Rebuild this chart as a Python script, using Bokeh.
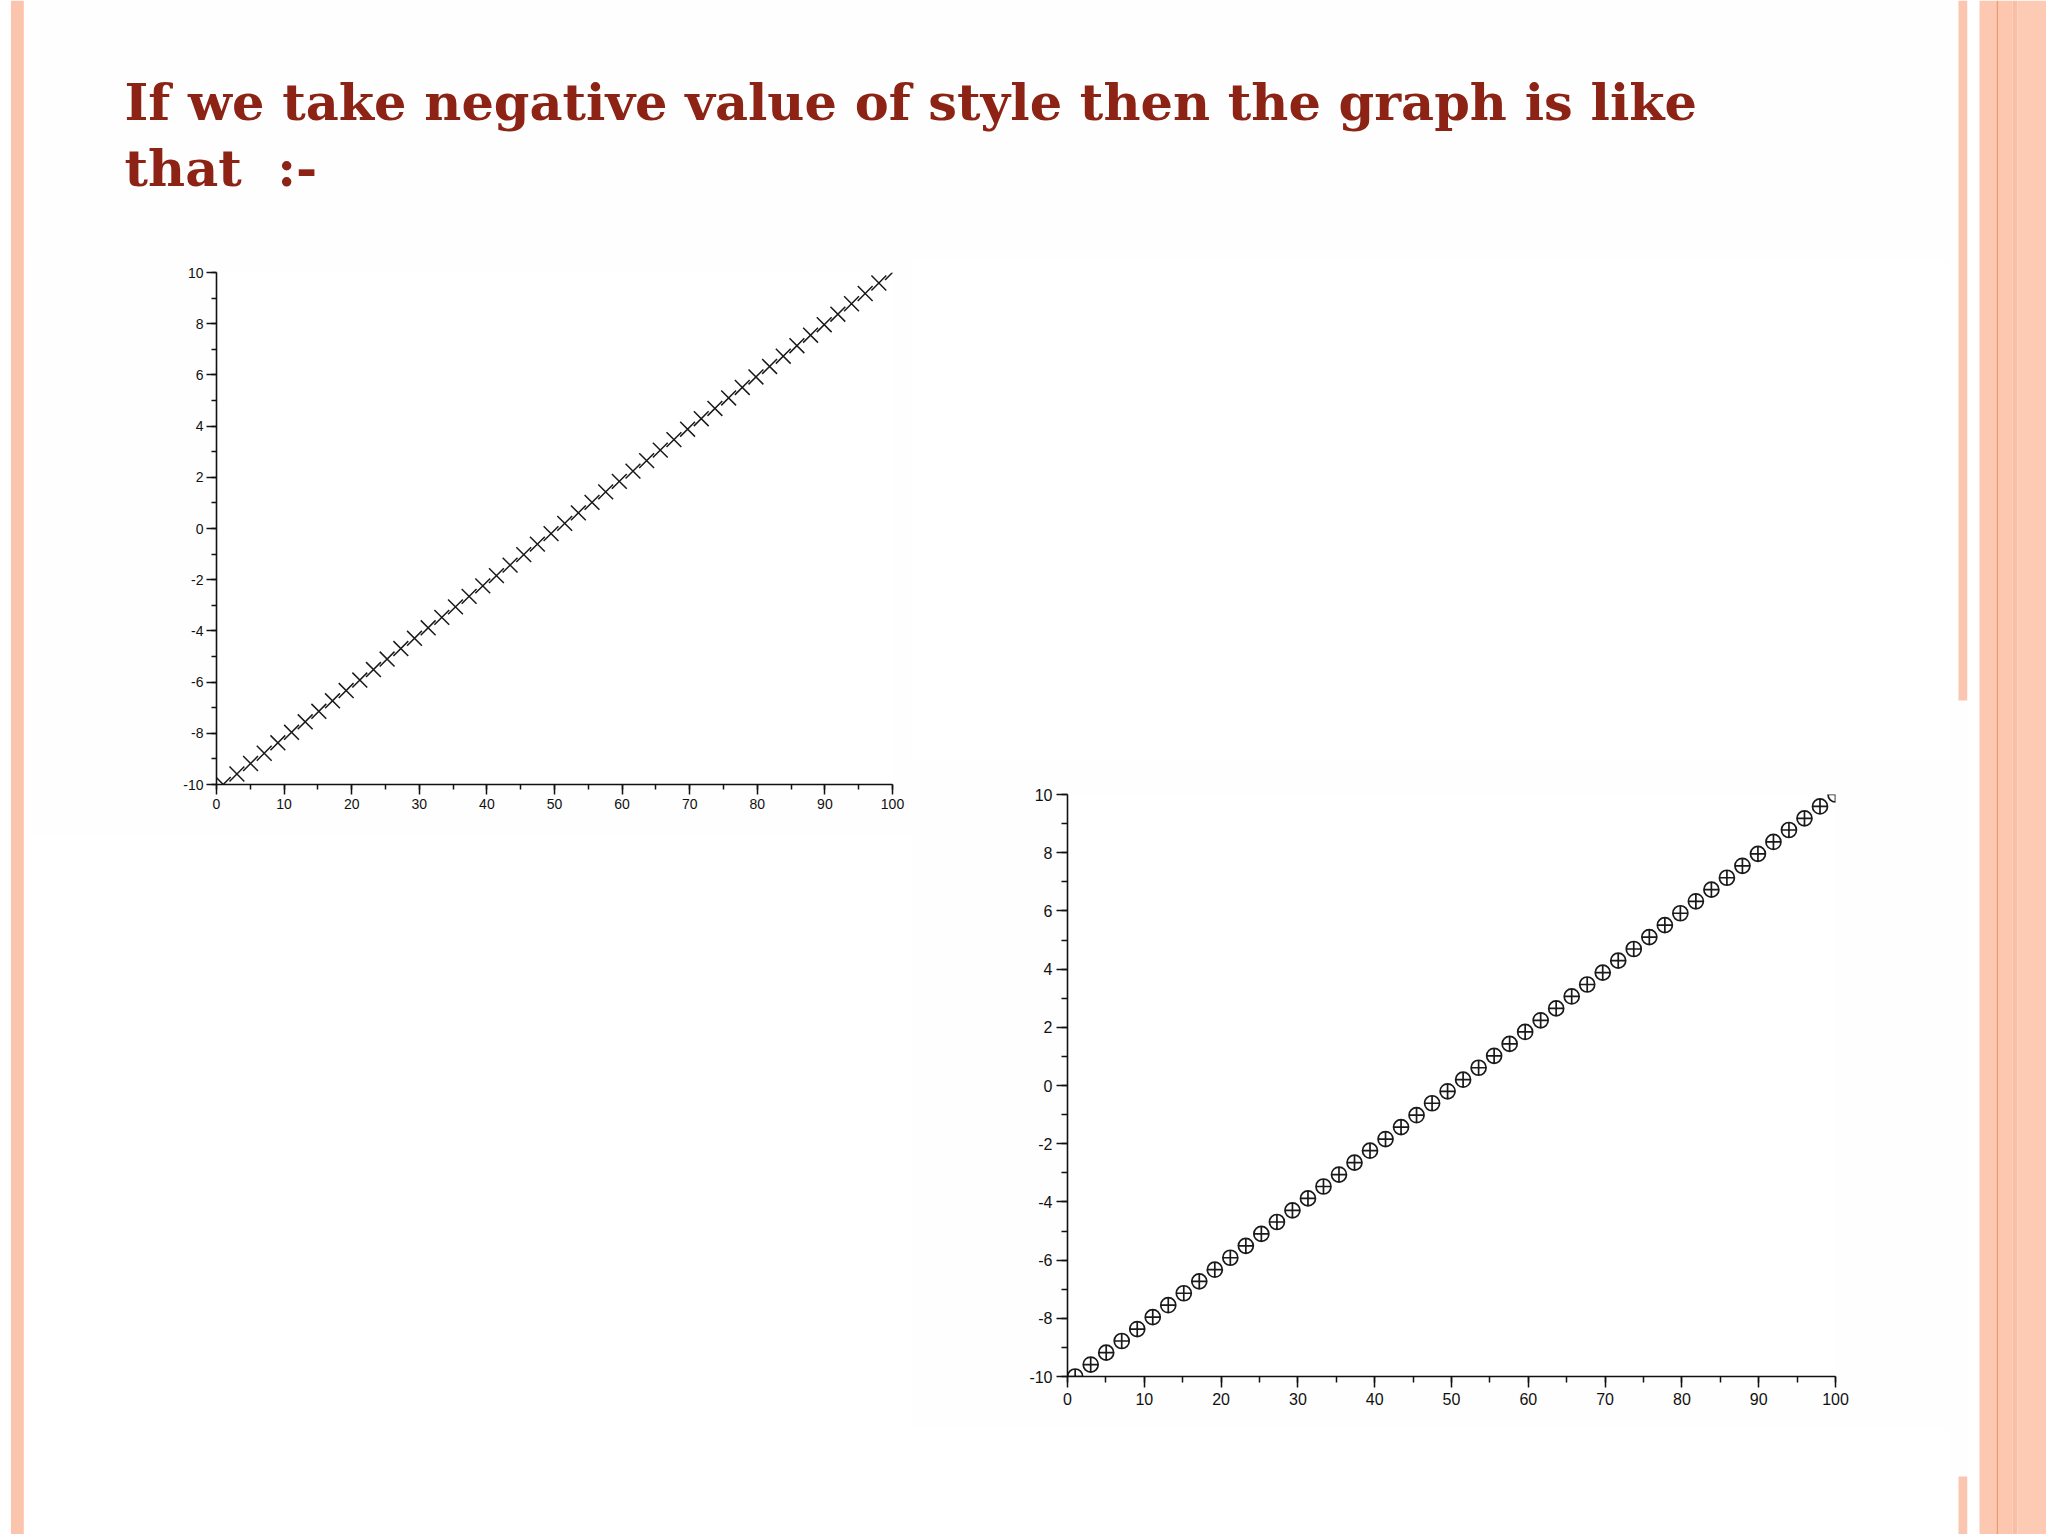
from bokeh.plotting import figure
from bokeh.layouts import row, column
from bokeh.models import Range1d, SingleIntervalTicker, Spacer
from bokeh.core.properties import value
from bokeh.embed import file_html
from bokeh.resources import INLINE

# ---- data ----
title_lines = ["If we take negative value of style then the graph is like",
               "that\u00a0\u00a0:-"]

x_vals = [1.00, 3.02, 5.04, 7.06, 9.08, 11.10, 13.12, 15.14, 17.16, 19.18,
          21.20, 23.22, 25.24, 27.27, 29.29, 31.31, 33.33, 35.35, 37.37, 39.39,
          41.41, 43.43, 45.45, 47.47, 49.49, 51.51, 53.53, 55.55, 57.57, 59.59,
          61.61, 63.63, 65.65, 67.67, 69.69, 71.71, 73.73, 75.76, 77.78, 79.80,
          81.82, 83.84, 85.86, 87.88, 89.90, 91.92, 93.94, 95.96, 97.98, 100.00]
y_vals = [-10.00, -9.59, -9.18, -8.78, -8.37, -7.96, -7.55, -7.14, -6.73, -6.33,
          -5.92, -5.51, -5.10, -4.69, -4.29, -3.88, -3.47, -3.06, -2.65, -2.24,
          -1.84, -1.43, -1.02, -0.61, -0.20, 0.20, 0.61, 1.02, 1.43, 1.84,
          2.24, 2.65, 3.06, 3.47, 3.88, 4.29, 4.69, 5.10, 5.51, 5.92,
          6.33, 6.73, 7.14, 7.55, 7.96, 8.37, 8.78, 9.18, 9.59, 10.00]

x_ticks = [0, 10, 20, 30, 40, 50, 60, 70, 80, 90, 100]
x_tick_labels = ["0", "10", "20", "30", "40", "50", "60", "70", "80", "90", "100"]
y_ticks = [-10, -8, -6, -4, -2, 0, 2, 4, 6, 8, 10]
y_tick_labels = ["-10", "-8", "-6", "-4", "-2", "0", "2", "4", "6", "8", "10"]

SLIDE_BG = "#fdfefd"
TITLE_COLOR = "#8c2315"
H = 1534


def deco_fig(width, height, x0, x1, y0, y1):
    f = figure(width=width, height=height, x_range=Range1d(x0, x1), y_range=Range1d(y1, y0),
               output_backend="svg", toolbar_location=None, min_border=0)
    f.axis.visible = False
    f.grid.visible = False
    f.outline_line_color = None
    f.background_fill_color = SLIDE_BG
    f.border_fill_color = SLIDE_BG
    return f


# left decoration bar (page x 0..30)
left = deco_fig(30, H, 0, 30, 0, H)
left.background_fill_color = "#ffffff"
left.border_fill_color = "#ffffff"
left.quad(left=[10.5], right=[23.3], top=[0], bottom=[H], fill_color="#fbc4ad", line_color=None)

# right decoration bars (page x 1950..2046)
right = deco_fig(96, H, 1950, 2046, 0, H)
right.quad(left=[1958, 1958], right=[1967, 1967], top=[0, 1476], bottom=[700, H],
           fill_color="#fbc6b0", line_color=None)
right.quad(left=[1967], right=[1979], top=[0], bottom=[H], fill_color="#ffffff", line_color=None)
right.quad(left=[1979], right=[1996], top=[0], bottom=[H], fill_color="#fcc8b2", line_color=None)
right.quad(left=[1996], right=[1998], top=[0], bottom=[H], fill_color="#f39a6a", line_color=None)
right.quad(left=[1998], right=[2012], top=[0], bottom=[H], fill_color="#fcc6af", line_color=None)
right.quad(left=[2012], right=[2017], top=[0], bottom=[H], fill_color="#f9bea6", line_color=None)
right.quad(left=[2017], right=[2046], top=[0], bottom=[H], fill_color="#fdcbb4", line_color=None)

# title figure (page x 30..1950, y 0..258)
title = deco_fig(1920, 258, 30, 1950, 0, 258)
title.text(x=[124, 124], y=[101, 167], text=title_lines,
           text_font=value("DejaVu Serif"), text_font_style="bold",
           text_font_size=value("51px"), text_color=TITLE_COLOR,
           text_baseline="alphabetic", text_align="left")


def chart(frame_w, frame_h, left_b, top_b, right_b, bottom_b, marker, msize, font_px,
          tick_major, tick_minor, lab_off_y, lab_off_x, lw):
    p = figure(frame_width=frame_w, frame_height=frame_h,
               min_border_left=left_b, min_border_top=top_b,
               min_border_right=right_b, min_border_bottom=bottom_b,
               x_range=Range1d(0, 100), y_range=Range1d(-10, 10),
               output_backend="svg", toolbar_location=None)
    p.grid.visible = False
    p.outline_line_color = None
    p.background_fill_color = "#ffffff"
    p.border_fill_color = SLIDE_BG
    p.xaxis.ticker = SingleIntervalTicker(interval=10, num_minor_ticks=2)
    p.yaxis.ticker = SingleIntervalTicker(interval=2, num_minor_ticks=2)
    p.xaxis.major_label_overrides = dict(zip(x_ticks, x_tick_labels))
    p.yaxis.major_label_overrides = dict(zip(y_ticks, y_tick_labels))
    for ax in (p.xaxis[0], p.yaxis[0]):
        ax.axis_line_color = "#111111"
        ax.axis_line_width = 1.6
        ax.major_tick_line_color = "#111111"
        ax.minor_tick_line_color = "#111111"
        ax.major_tick_line_width = 1.5
        ax.minor_tick_line_width = 1.5
        ax.major_tick_in = 0
        ax.minor_tick_in = 0
        ax.major_tick_out = tick_major
        ax.minor_tick_out = tick_minor
        ax.major_label_text_font = "Liberation Sans"
        ax.major_label_text_font_size = f"{font_px}px"
        ax.major_label_text_color = "#111111"
    p.yaxis.major_label_standoff = lab_off_y
    p.xaxis.major_label_standoff = lab_off_x
    p.scatter(x_vals, y_vals, marker=marker, size=msize, line_color="#1a1a1a",
              line_width=lw, fill_color="#ffffff")
    return p


# chart 1: frame page x 216..892, y 272..784
p1 = chart(676, 512, 186, 14, 20, 50, "x", 21, 14, 10, 5, 3, 4, 1.5)
# chart 2: frame page x 1067..1835, y 794..1376
p2 = chart(768, 582, 155, 36, 115, 50, "circle_cross", 15, 16, 11, 6, 4, 5, 1.7)

col1 = column(p1)
col2 = column(Spacer(width=1038, height=500), p2)
middle = column(title, row(col1, col2))
layout = row(left, middle, right)

open("out.html", "w").write(file_html(layout, INLINE))
